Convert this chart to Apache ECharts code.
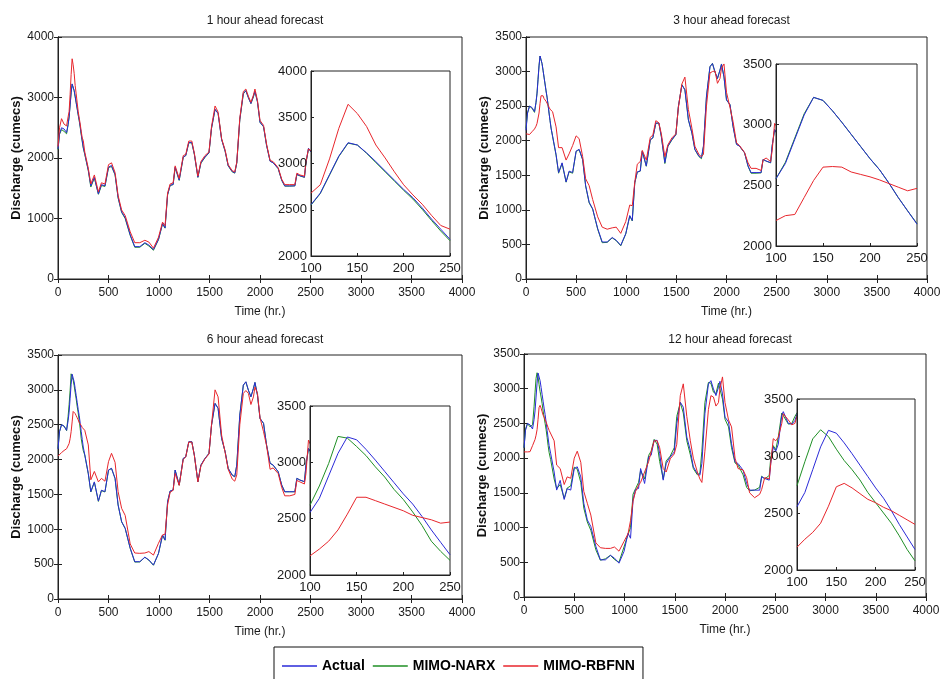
<!DOCTYPE html>
<html><head><meta charset="utf-8">
<script src="https://cdn.jsdelivr.net/npm/echarts@6/dist/echarts.min.js"></script>
<style>html,body{margin:0;padding:0;background:#fff}#c{width:944px;height:679px}</style>
</head><body><div id="c"></div>
<script>
// ---------------- DATA ----------------
const titles = ['1 hour ahead forecast', '3 hour ahead forecast', '6 hour ahead forecast', '12 hour ahead forecast'];
const seriesNames = ['Actual', 'MIMO-NARX', 'MIMO-RBFNN'];
const xTicksMain = [0, 500, 1000, 1500, 2000, 2500, 3000, 3500, 4000];
const xTicksInset = [100, 150, 200, 250];

// main-plot sample hours (outside the 100-250 zoom window)
const hours = [0,15,35,60,85,
 265,300,325,360,400,430,465,500,530,565,595,630,665,715,760,810,860,900,945,995,
 1035,1060,1085,1110,1140,1160,1200,1240,1265,1295,1325,1350,1385,1415,1455,1495,1520,1555,1585,1620,
 1655,1685,1725,1750,1770,1800,1835,1860,1885,1910,1935,1950,1975,2000,2035,2065,2100,2130,2180,2215,
 2245,2295,2345,2365,2395,2440,2455,2480,2505,2530,2565,2580,2630,2665,2695,2720];
// zoom-window hours (inset)
const insetHours = [100,110,120,130,140,150,160,170,180,190,200,210,220,230,240,250];

const actual = [2150,2400,2500,2480,2420,
 2070,1800,1540,1680,1405,1560,1540,1850,1875,1730,1350,1110,1015,730,535,535,600,560,487,655,
 918,846,1395,1549,1563,1850,1635,2017,2041,2256,2256,2065,1683,1922,2017,2089,2495,2806,2734,2304,
 2113,1874,1778,1754,1922,2639,3069,3116,2997,2901,3021,3107,2925,2591,2520,2208,1946,1922,1826,1635,
 1539,1539,1539,1731,1707,1683,1922,2161,2100,2200,2620,2670,2500,2490,2540,2650];
const actualInset = [2555,2680,2880,3080,3225,3200,3115,3020,2920,2820,2720,2630,2520,2400,2290,2180];

// 1 hour ahead
const narx1 = [2140,2390,2470,2440,2400,
 2060,1790,1520,1670,1400,1545,1530,1840,1860,1720,1340,1100,1000,720,525,525,590,545,475,650,
 910,840,1390,1545,1560,1840,1630,2010,2040,2250,2250,2060,1680,1915,2010,2085,2490,2800,2740,2310,
 2110,1870,1770,1750,1915,2630,3060,3110,3000,2900,3010,3100,2930,2590,2515,2210,1950,1920,1825,1630,
 1535,1535,1540,1725,1705,1680,1915,2150,2110,2210,2610,2660,2510,2495,2540,2640];
const rbf1 = [2190,2500,2650,2560,2530,
 2100,1830,1570,1720,1440,1590,1570,1890,1920,1760,1380,1140,1050,780,600,600,640,610,510,690,
 940,880,1420,1570,1590,1870,1660,2040,2060,2280,2280,2080,1700,1940,2040,2100,2520,2860,2760,2320,
 2130,1890,1790,1770,1930,2660,3100,3140,3020,2920,3040,3140,2950,2620,2540,2230,1960,1940,1840,1650,
 1560,1560,1560,1750,1720,1700,1940,2150,2120,2220,2640,2690,2520,2510,2560,2670];
const narx1Inset = [2550,2675,2875,3075,3220,3200,3110,3010,2910,2810,2710,2615,2505,2385,2270,2165];
const rbf1Inset = [2680,2770,3050,3380,3640,3540,3400,3200,3060,2910,2770,2660,2560,2440,2330,2290];

// 3 hour ahead
const narx2 = [2180,2400,2500,2470,2410,
 2060,1790,1530,1670,1400,1550,1530,1845,1870,1725,1345,1100,1010,720,525,530,595,555,480,650,
 910,840,1390,1545,1560,1845,1630,2010,2040,2250,2255,2060,1670,1915,2010,2085,2490,2810,2740,2300,
 2110,1870,1770,1740,1915,2630,3070,3120,2990,2900,3020,3110,2920,2590,2520,2210,1950,1920,1825,1630,
 1530,1530,1535,1730,1705,1680,1920,2160,2100,2200,2620,2670,2500,2490,2540,2650];
const rbf2 = [2100,2090,2090,2130,2170,
 2420,2200,1900,1900,1720,1810,1930,2070,2030,1770,1450,1350,1150,900,750,720,740,750,660,830,
 1070,1060,1400,1660,1700,1860,1720,2050,2080,2290,2260,2100,1770,1940,2040,2100,2480,2820,2920,2450,
 2180,1920,1800,1770,1800,2500,2980,3000,3010,2830,2900,3050,3110,2700,2480,2280,1970,1930,1830,1680,
 1600,1600,1570,1720,1750,1700,1850,2250,2200,2300,2600,2650,2520,2480,2550,2650];
const narx2Inset = [2555,2690,2890,3090,3225,3200,3115,3020,2920,2820,2720,2630,2520,2400,2290,2185];
const rbf2Inset = [2210,2250,2260,2400,2540,2650,2655,2650,2610,2590,2570,2545,2515,2485,2455,2475];

// 6 hour ahead
const narx3 = [2160,2400,2500,2480,2415,
 2065,1795,1535,1675,1400,1555,1535,1848,1872,1728,1348,1105,1012,725,530,532,598,556,484,652,
 915,842,1392,1547,1561,1848,1632,2015,2040,2254,2255,2062,1680,1920,2015,2088,2492,2804,2736,2302,
 2112,1872,1776,1752,1920,2636,3066,3114,2995,2900,3020,3105,2924,2590,2518,2208,1946,1920,1825,1634,
 1538,1538,1538,1730,1706,1682,1920,2160,2100,2200,2620,2670,2500,2490,2540,2650];
const rbf3 = [2050,2060,2100,2130,2155,
 2420,2210,1710,1830,1680,1730,1690,1970,2090,1960,1540,1300,1200,790,660,655,660,680,630,800,
 920,930,1350,1530,1560,1800,1630,2000,2040,2250,2250,2060,1680,1910,2010,2080,2500,3000,2900,2350,
 2100,1860,1720,1690,1780,2500,2950,2990,2950,2790,2900,3040,2950,2600,2400,2200,1860,1880,1800,1600,
 1480,1480,1500,1700,1680,1650,1800,2280,2200,2250,2600,2650,2480,2450,2520,2620];
const narx3Inset = [2620,2790,2990,3230,3215,3140,3060,2960,2870,2760,2670,2560,2440,2300,2210,2130];
const rbf3Inset = [2170,2230,2300,2400,2540,2690,2690,2660,2630,2600,2570,2530,2510,2490,2460,2470];

// 12 hour ahead
const narx4 = [2150,2420,2500,2450,2480,
 1980,1700,1560,1620,1420,1570,1600,1870,1840,1650,1280,1080,960,680,530,550,600,540,500,720,
 900,1000,1480,1560,1650,1820,1700,2040,2100,2270,2200,1950,1700,1960,2030,2150,2600,2800,2650,2250,
 2050,1850,1760,1780,2100,2800,3090,3080,2950,2930,3080,3080,2850,2560,2450,2150,1930,1900,1760,1580,
 1530,1540,1580,1740,1700,1750,2000,2180,2120,2300,2650,2640,2490,2500,2600,2660];
const rbf4 = [2090,2070,2090,2093,2180,
 2400,2250,1900,1850,1620,1730,1710,2000,2100,1940,1520,1350,1180,780,710,700,700,720,660,800,
 910,1100,1380,1520,1610,1650,1800,1950,2090,2250,2250,2150,1850,1800,1990,2060,2200,2900,3070,2600,
 2250,2000,1800,1700,1650,2100,2700,2900,2880,2750,2800,3000,3170,2800,2550,2450,2000,1850,1830,1720,
 1500,1430,1480,1550,1720,1700,1680,2280,2250,2300,2500,2640,2550,2480,2500,2620];
const narx4Inset = [2740,2950,3150,3230,3170,3060,2960,2880,2790,2680,2590,2500,2410,2300,2180,2080];
const rbf4Inset = [2200,2270,2330,2410,2560,2730,2760,2720,2670,2620,2590,2550,2520,2480,2440,2400];

const yMaxMain = [4000, 3500, 3500, 3500];
const yIntMain = [1000, 500, 500, 500];
const yMinInset = [2000, 2000, 2000, 2000];
const yMaxInset = [4000, 3500, 3500, 3500];
const yIntInset = [500, 500, 500, 500];

// ---------------- LAYOUT ----------------
const colors = {'Actual': '#2a2ad8', 'MIMO-NARX': '#1f8f25', 'MIMO-RBFNN': '#e8262c'};
const FONT = '"Liberation Sans", Arial, sans-serif';
const mainGrids = [
  {left: 58, top: 37, width: 404, height: 242},
  {left: 526, top: 37, width: 401, height: 242},
  {left: 58, top: 355, width: 404, height: 244},
  {left: 524, top: 354, width: 402, height: 243}
];
const insetGrids = [
  {left: 311, top: 71, width: 139, height: 185},
  {left: 776, top: 64, width: 141, height: 182},
  {left: 310, top: 406, width: 140, height: 169},
  {left: 797, top: 399, width: 118, height: 171}
];
const panelSeries = [
  {narx: narx1, rbf: rbf1, narxI: narx1Inset, rbfI: rbf1Inset},
  {narx: narx2, rbf: rbf2, narxI: narx2Inset, rbfI: rbf2Inset},
  {narx: narx3, rbf: rbf3, narxI: narx3Inset, rbfI: rbf3Inset},
  {narx: narx4, rbf: rbf4, narxI: narx4Inset, rbfI: rbf4Inset}
];

function merge(mainVals, insetVals) {
  const pts = hours.map((t, i) => [t, mainVals[i]]).concat(insetHours.map((t, i) => [t, insetVals[i]]));
  pts.sort((a, b) => a[0] - b[0]);
  return pts;
}
function insetPts(vals) { return insetHours.map((t, i) => [t, vals[i]]); }
const plain = (v) => String(v);

const axisLineStyle = {color: '#222', width: 1};
const labelStyle = {color: '#1a1a1a', fontSize: 12, fontFamily: FONT, formatter: plain};

const grid = [], xAxis = [], yAxis = [], series = [], title = [];

mainGrids.forEach((g, p) => {
  grid.push(Object.assign({show: true, borderColor: '#222', borderWidth: 1, backgroundColor: 'transparent', containLabel: false}, g));
  title.push({text: titles[p], left: g.left + g.width / 2, top: p < 2 ? 10 : 329, textAlign: 'center',
    textStyle: {fontSize: 12, fontWeight: 'normal', color: '#1a1a1a', fontFamily: FONT}});
});
insetGrids.forEach((g) => {
  grid.push(Object.assign({show: true, borderColor: '#222', borderWidth: 1, backgroundColor: '#ffffff', z: 5}, g));
});

// main x axes bottom (0-3)
for (let p = 0; p < 4; p++) {
  xAxis.push({type: 'value', gridIndex: p, min: xTicksMain[0], max: xTicksMain[xTicksMain.length - 1], interval: 500,
    name: 'Time (hr.)', nameLocation: 'middle', nameGap: 27,
    nameTextStyle: {fontSize: 12, color: '#1a1a1a', fontFamily: FONT},
    axisLine: {lineStyle: axisLineStyle}, axisTick: {inside: true, length: 4, lineStyle: axisLineStyle},
    axisLabel: Object.assign({margin: 8}, labelStyle), splitLine: {show: false}});
}
// main x axes top (4-7)
for (let p = 0; p < 4; p++) {
  xAxis.push({type: 'value', gridIndex: p, position: 'top', min: 0, max: 4000, interval: 500,
    axisLine: {lineStyle: axisLineStyle}, axisTick: {inside: true, length: 4, lineStyle: axisLineStyle},
    axisLabel: {show: false}, splitLine: {show: false}});
}
// inset x axes (8-11)
for (let p = 0; p < 4; p++) {
  xAxis.push({type: 'value', gridIndex: 4 + p, min: xTicksInset[0], max: xTicksInset[xTicksInset.length - 1], interval: 50, z: 6,
    axisLine: {lineStyle: axisLineStyle}, axisTick: {inside: true, length: 3, lineStyle: axisLineStyle},
    axisLabel: Object.assign({margin: 6}, labelStyle, {fontSize: 13}), splitLine: {show: false}});
}
// main y left (0-3)
for (let p = 0; p < 4; p++) {
  yAxis.push({type: 'value', gridIndex: p, min: 0, max: yMaxMain[p], interval: yIntMain[p],
    name: 'Discharge (cumecs)', nameLocation: 'middle', nameGap: 33,
    nameTextStyle: {fontSize: 13, fontWeight: 'bold', color: '#111', fontFamily: FONT},
    axisLine: {lineStyle: axisLineStyle}, axisTick: {inside: true, length: 4, lineStyle: axisLineStyle},
    axisLabel: Object.assign({margin: 4}, labelStyle), splitLine: {show: false}});
}
// main y right (4-7)
for (let p = 0; p < 4; p++) {
  yAxis.push({type: 'value', gridIndex: p, position: 'right', min: 0, max: yMaxMain[p], interval: yIntMain[p],
    axisLine: {lineStyle: axisLineStyle}, axisTick: {inside: true, length: 4, lineStyle: axisLineStyle},
    axisLabel: {show: false}, splitLine: {show: false}});
}
// inset y (8-11)
for (let p = 0; p < 4; p++) {
  yAxis.push({type: 'value', gridIndex: 4 + p, min: yMinInset[p], max: yMaxInset[p], interval: yIntInset[p], z: 6,
    axisLine: {lineStyle: axisLineStyle}, axisTick: {inside: true, length: 3, lineStyle: axisLineStyle},
    axisLabel: Object.assign({margin: 4}, labelStyle, {fontSize: 13}), splitLine: {show: false}});
}

function lineSeries(name, data, xi, yi, z) {
  return {name: name, type: 'line', xAxisIndex: xi, yAxisIndex: yi, data: data, symbol: 'none',
    showSymbol: false, smooth: false, z: z, animation: false,
    lineStyle: {color: colors[name], width: 1}, itemStyle: {color: colors[name]}};
}

for (let p = 0; p < 4; p++) {
  const s = panelSeries[p];
  series.push(lineSeries('MIMO-NARX', merge(s.narx, s.narxI), p, p, 2));
  series.push(lineSeries('Actual', merge(actual, actualInset), p, p, 2));
  series.push(lineSeries('MIMO-RBFNN', merge(s.rbf, s.rbfI), p, p, 2));
  series.push(lineSeries('MIMO-NARX', insetPts(s.narxI), 8 + p, 8 + p, 7));
  series.push(lineSeries('Actual', insetPts(actualInset), 8 + p, 8 + p, 7));
  series.push(lineSeries('MIMO-RBFNN', insetPts(s.rbfI), 8 + p, 8 + p, 7));
}

const chart = echarts.init(document.getElementById('c'), null, {renderer: 'canvas'});
chart.setOption({
  animation: false,
  backgroundColor: '#ffffff',
  title: title,
  grid: grid,
  xAxis: xAxis,
  yAxis: yAxis,
  series: series,
  legend: {
    data: seriesNames, left: 274, top: 647, orient: 'horizontal',
    icon: 'rect', itemWidth: 35, itemHeight: 1.5, itemGap: 8,
    padding: [12, 8, 30, 8],
    borderColor: '#111', borderWidth: 1, backgroundColor: '#fff',
    textStyle: {fontSize: 14, fontWeight: 'bold', color: '#000', fontFamily: FONT}
  }
});
</script>
</body></html>
